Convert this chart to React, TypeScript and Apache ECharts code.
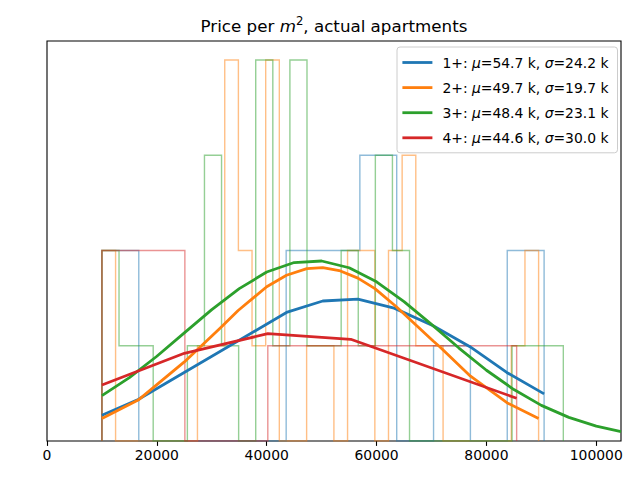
import React, { useEffect, useRef } from "react";
import * as echarts from "echarts";

// ---- data ----
const xTicks = [0, 20000, 40000, 60000, 80000, 100000];
const seriesNames = ["1+", "2+", "3+", "4+"];
const mus = [54.7, 49.7, 48.4, 44.6];
const sigmas = [24.2, 19.7, 23.1, 30.0];
const colors = ["#1f77b4", "#ff7f0e", "#2ca02c", "#d62728"];

// histogram ranges [lo, hi] and bin counts
const blueRange = [10000, 90500];
const blueCounts = [2, 0, 0, 0, 0, 2, 2, 3, 0, 1, 0, 2];
const orangeRange = [10000, 89500];
const orangeCounts = [2, 0, 0, 0, 0, 0, 0, 1, 1, 4, 2, 1, 4, 0, 0, 1, 1, 0, 2, 2, 0, 2, 3, 1, 1, 0, 0, 0, 0, 0, 1, 2];
const greenRange = [10000, 94000];
const greenCounts = [2, 1, 1, 0, 0, 1, 3, 1, 0, 4, 1, 4, 1, 1, 2, 1, 3, 2, 0, 0, 0, 0, 0, 0, 1, 1, 1];
const redRange = [10000, 85500];
const redCounts = [2, 0, 1, 1, 1];

// fitted curves (x, y)
const blueX = [10000, 16600, 43600, 50200, 56600, 63200, 70300, 77000, 83700, 90500];
const blueY = [0.27, 0.435, 1.35, 1.47, 1.49, 1.395, 1.21, 0.99, 0.72, 0.495];
const orangeX = [10000, 16600, 25000, 31500, 34800, 40000, 43600, 47300, 50200, 53200, 56600, 59700, 63600, 70300, 71500, 77100, 83800, 89500];
const orangeY = [0.236, 0.43, 0.83, 1.185, 1.37, 1.62, 1.74, 1.81, 1.82, 1.79, 1.71, 1.6, 1.41, 1.05, 0.99, 0.68, 0.4, 0.235];
const greenX = [10000, 15000, 20000, 25000, 30000, 35000, 40000, 45000, 50000, 55000, 60000, 65000, 70000, 75000, 80000, 85000, 90000, 95000, 100000, 104500];
const greenY = [0.476, 0.666, 0.89, 1.135, 1.38, 1.6, 1.774, 1.874, 1.89, 1.819, 1.671, 1.464, 1.224, 0.976, 0.743, 0.54, 0.374, 0.248, 0.156, 0.099];
const redX = [10000, 25000, 40200, 55300, 85500];
const redY = [0.588, 0.921, 1.127, 1.068, 0.449];

const FONT = "DejaVu Sans";

function stepData(range: number[], counts: number[]) {
  const [lo, hi] = range;
  const n = counts.length;
  const w = (hi - lo) / n;
  const pts: number[][] = [[lo, 0]];
  counts.forEach((c, i) => {
    pts.push([lo + i * w, c]);
    pts.push([lo + (i + 1) * w, c]);
  });
  pts.push([hi, 0]);
  return pts;
}

function zip(xs: number[], ys: number[]) {
  return xs.map((x, i) => [x, ys[i]]);
}

export default function App() {
  const ref = useRef<HTMLDivElement>(null);
  useEffect(() => {
    if (!ref.current) return;
    const chart = echarts.init(ref.current, undefined, { renderer: "svg" });
    const hists = [
      stepData(blueRange, blueCounts),
      stepData(orangeRange, orangeCounts),
      stepData(greenRange, greenCounts),
      stepData(redRange, redCounts),
    ];
    const curves = [zip(blueX, blueY), zip(orangeX, orangeY), zip(greenX, greenY), zip(redX, redY)];
    const series: any[] = [];
    hists.forEach((d, i) => {
      series.push({
        type: "line",
        name: "hist" + i,
        data: d,
        symbol: "none",
        silent: true,
        z: 2,
        lineStyle: { color: colors[i], width: 1.4, opacity: 0.5, join: "miter" },
        itemStyle: { color: colors[i] },
      });
    });
    curves.forEach((d, i) => {
      series.push({
        type: "line",
        name: seriesNames[i],
        data: d,
        symbol: "none",
        silent: true,
        z: 3,
        lineStyle: { color: colors[i], width: 2.8, join: "round", cap: "butt" },
        itemStyle: { color: colors[i] },
      });
    });
    chart.setOption({
      animation: false,
      grid: { left: 47, right: 19, top: 41, bottom: 39, show: true, borderColor: "#000", borderWidth: 1.1, backgroundColor: "transparent" },
      xAxis: {
        type: "value",
        min: 0,
        max: 104500,
        interval: 20000,
        axisLine: { show: false },
        axisTick: { show: true, inside: false, length: 4.9, lineStyle: { color: "#000", width: 1.1 } },
        axisLabel: {
          margin: 7,
          color: "#000",
          fontFamily: FONT,
          fontSize: 13.9,
          formatter: (v: number) => (xTicks.includes(v) ? String(v) : ""),
          showMaxLabel: false,
        },
        splitLine: { show: false },
      },
      yAxis: {
        type: "value",
        min: 0,
        max: 4.2,
        axisLine: { show: false },
        axisTick: { show: false },
        axisLabel: { show: false },
        splitLine: { show: false },
      },
      legend: {
        data: seriesNames,
        orient: "vertical",
        left: 397,
        top: 47,
        itemWidth: 30,
        itemHeight: 14,
        itemGap: 11.1,
        padding: [8.5, 9, 8, 4],
        backgroundColor: "rgba(255,255,255,0.8)",
        borderColor: "#cccccc",
        borderWidth: 1,
        borderRadius: 3,
        selectedMode: false,
        itemStyle: { opacity: 0, borderWidth: 0 },
        lineStyle: { width: 2.8 },
        formatter: (name: string) => {
          const i = seriesNames.indexOf(name);
          return `{sp|}{t|${name}: }{i|μ}{t|=${mus[i].toFixed(1)} k, }{i|σ}{t|=${sigmas[i].toFixed(1)} k}`;
        },
        textStyle: {
          fontFamily: FONT,
          fontSize: 13.9,
          color: "#000",
          rich: {
            sp: { width: 5 },
            t: { fontFamily: FONT, fontSize: 13.9, color: "#000" },
            i: { fontFamily: FONT, fontSize: 13.9, fontStyle: "italic", color: "#000" },
          },
        },
      },
      graphic: [
        {
          type: "text",
          x: 334,
          y: 26,
          style: {
            text: "{t|Price per }{i|m}{sup|2}{t|, actual apartments}",
            align: "center",
            verticalAlign: "middle",
            fontFamily: FONT,
            fontSize: 16.7,
            fill: "#000",
            rich: {
              t: { fontFamily: FONT, fontSize: 16.7, color: "#000", lineHeight: 22, verticalAlign: "middle" },
              i: { fontFamily: FONT, fontSize: 16.7, fontStyle: "italic", color: "#000", lineHeight: 22, verticalAlign: "middle" },
              sup: { fontFamily: FONT, fontSize: 11.7, color: "#000", lineHeight: 22, verticalAlign: "top" },
            },
          },
        },
      ],
      series,
    });
    return () => chart.dispose();
  }, []);
  return <div ref={ref} style={{ position: "absolute", left: 0, top: 0, width: 640, height: 480 }} />;
}
